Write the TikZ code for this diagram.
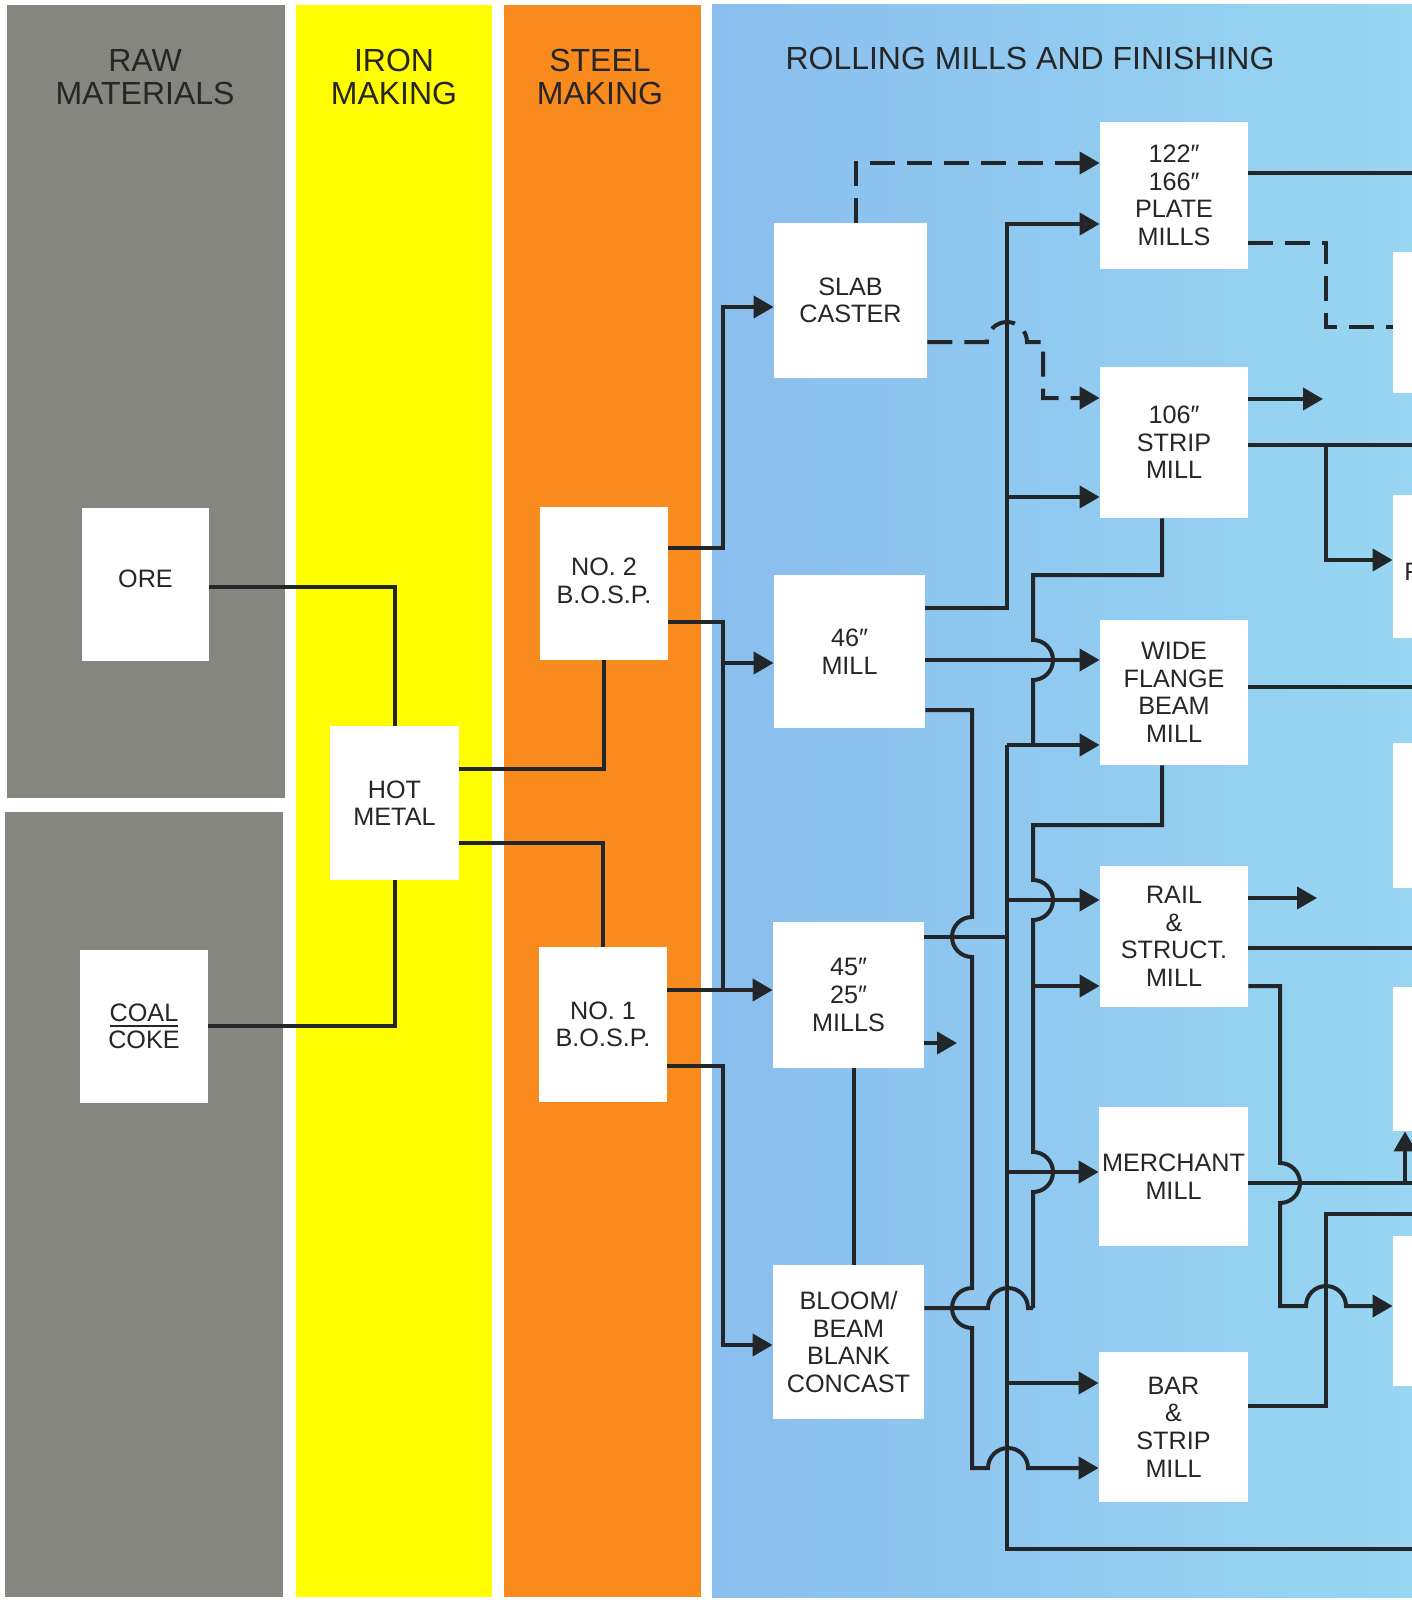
\documentclass[tikz,border=0pt]{standalone}
\usepackage{fontspec}
\setmainfont{Liberation Sans}
\usetikzlibrary{arrows.meta}
\definecolor{grayraw}{RGB}{134,134,128}
\definecolor{ironyel}{RGB}{255,253,0}
\definecolor{steelor}{RGB}{249,139,30}
\definecolor{blueL}{RGB}{138,190,238}
\definecolor{blueR}{RGB}{152,214,242}
\definecolor{txt}{RGB}{38,38,38}
\definecolor{lnc}{RGB}{35,38,40}
\newcommand\boxfnt{\fontsize{12.6pt}{13.8pt}\selectfont}
\newcommand\hdrfnt{\fontsize{16pt}{16.5pt}\selectfont}
\begin{document}
\begin{tikzpicture}[x=0.5pt,y=-0.5pt,
  bx/.style={fill=white, inner sep=0pt, align=center, font=\boxfnt, text=txt},
  hdr/.style={inner sep=0pt, align=center, font=\hdrfnt, text=txt},
  ln/.style={line width=2pt, draw=lnc},
  arr/.style={ln, -{Triangle[length=10pt,width=11pt]}},
  dsh/.style={dash pattern=on 12.5pt off 6pt}]
\useasboundingbox (0,0) rectangle (1412,1600);
\fill[white] (0,0) rectangle (1412,1600);
% columns
\fill[grayraw] (7,5) rectangle (285,798);
\fill[grayraw] (5,812) rectangle (283,1597);
\fill[ironyel] (296,5) rectangle (492,1597);
\fill[steelor] (504,5) rectangle (701,1597);
\shade[left color=blueL, right color=blueR] (712,5) rectangle (1412,1597);
% headers
\node[hdr] (hraw) at (145,77) {RAW\\MATERIALS};
\node[hdr] (hiron) at (394,77) {IRON\\MAKING};
\node[hdr] (hsteel) at (600,77) {STEEL\\MAKING};
\node[hdr] (hroll) at (1030,58) {ROLLING MILLS AND FINISHING};
% boxes
\node[bx, minimum width=63.5pt, minimum height=76.5pt] (ore) at (145.5,584.5) {\raisebox{6pt}{ORE}};
\node[bx, minimum width=64pt, minimum height=76.5pt] (coal) at (144,1026.5)
  {{\setbox0\hbox{COAL}\rlap{\rule[-2.6pt]{\wd0}{0.8pt}}\box0}\\COKE};
\node[bx, minimum width=64.5pt, minimum height=77pt] (hot) at (394.5,803) {HOT\\METAL};
\node[bx, minimum width=64pt, minimum height=76.5pt] (bosp2) at (604,583.5) {NO. 2\\\raisebox{0pt}[\height][3pt]{B.O.S.P.}};
\node[bx, minimum width=64pt, minimum height=77.5pt] (bosp1) at (603,1024.5) {NO. 1\\B.O.S.P.};
\node[bx, minimum width=76.5pt, minimum height=77.5pt] (slab) at (850.5,300.5) {SLAB\\CASTER};
\node[bx, minimum width=75.5pt, minimum height=76.5pt] (m46) at (849.5,651.5) {46″\\MILL};
\node[bx, minimum width=75.5pt, minimum height=73pt] (m45) at (848.5,995) {45″\\25″\\MILLS};
\node[bx, minimum width=75.5pt, minimum height=77pt] (bloom) at (848.5,1342) {BLOOM/\\BEAM\\BLANK\\CONCAST};
\node[bx, minimum width=74pt, minimum height=73.5pt] (plate) at (1174,195.5) {122″\\166″\\PLATE\\MILLS};
\node[bx, minimum width=74pt, minimum height=75.5pt] (strip) at (1174,442.5) {106″\\STRIP\\MILL};
\node[bx, minimum width=74pt, minimum height=72.5pt] (wfb) at (1174,692.5) {WIDE\\FLANGE\\BEAM\\MILL};
\node[bx, minimum width=74pt, minimum height=70.5pt] (rail) at (1174,936.5) {RAIL\\\&\\STRUCT.\\MILL};
\node[bx, minimum width=74.5pt, minimum height=69.5pt] (merch) at (1173.5,1176.5) {MERCHANT\\MILL};
\node[bx, minimum width=74.5pt, minimum height=75pt] (bar) at (1173.5,1427) {BAR\\\&\\STRIP\\MILL};
% right-edge boxes (cut by the page edge)
\node[bx, minimum width=23.5pt, minimum height=70.5pt] (r1) at (1416.5,322.5) {};
\node[bx, minimum width=23.5pt, minimum height=71.5pt] (r2) at (1416.5,566.5) {};
\node[bx, minimum width=23.5pt, minimum height=72.5pt] (r3) at (1416.5,815.5) {};
\node[bx, minimum width=23.5pt, minimum height=72pt] (r4) at (1416.5,1059) {};
\node[bx, minimum width=23.5pt, minimum height=75pt] (r5) at (1416.5,1311) {};
\node[font=\boxfnt, text=txt, anchor=west, inner sep=0pt] (rlbl) at (1404,572) {F};
% free ends
\coordinate (e173) at (1412,173);
\coordinate (e445) at (1412,445);
\coordinate (e687) at (1412,687);
\coordinate (e948) at (1412,948);
\coordinate (e1183) at (1412,1183);
\coordinate (e1214) at (1412,1214);
\coordinate (e1549) at (1412,1549);
\coordinate (stripout) at (1323,399);
\coordinate (railout) at (1317,898);
\coordinate (m45out) at (957,1043);
% raw -> iron -> steel
\draw[ln] (ore.east |- 0,587) -| (hot.north);
\draw[ln] (coal.east |- 0,1026) -| (hot.south);
\draw[ln] (hot.east |- 0,769) -| (bosp2.south);
\draw[ln] (hot.east |- 0,843) -| (bosp1.north);
% steel -> casters/mills
\draw[arr] (bosp2.east |- 0,548) -- (723,548) |- (slab.west |- 0,307);
\draw[ln] (bosp2.east |- 0,622) -- (723,622) -- (723,990);
\draw[arr] (723,663) -- (m46.west |- 0,663);
\draw[arr] (bosp1.east |- 0,990) -- (m45.west |- 0,990);
\draw[arr] (bosp1.east |- 0,1066) -- (723,1066) |- (bloom.west |- 0,1345);
\draw[ln] (m45.south -| 854,0) -- (bloom.north -| 854,0);
% slab caster dashed
\draw[arr,dsh] (slab.north -| 856,0) |- (plate.west |- 0,163);
\draw[arr,dsh] (slab.east |- 0,342) -- (987,342) arc[start angle=180,end angle=360,radius=20]
  -- (1043,342) |- (strip.west |- 0,398);
% 46" mill
\draw[arr] (m46.east |- 0,608) -| (1007,224) -- (plate.west |- 0,224);
\draw[arr] (1007,497) -- (strip.west |- 0,497);
\draw[arr] (m46.east |- 0,660) -- (wfb.west |- 0,660);
\draw[ln] (strip.south -| 1162,0) |- (1033,575) -- (1033,640)
  arc[start angle=-90,end angle=90,radius=20] -- (1033,745);
\draw[arr] (1007,745) -- (wfb.west |- 0,745);
\draw[ln] (1007,745) -- (1007,1549) -- (e1549);
\draw[arr] (m46.east |- 0,710) -- (972,710) -- (972,917)
  arc[start angle=-90,end angle=-270,radius=20] -- (972,1288)
  arc[start angle=-90,end angle=-270,radius=20] -- (972,1468) -- (988,1468)
  arc[start angle=180,end angle=360,radius=20] -- (bar.west |- 0,1468);
% 45"/25" mills
\draw[ln] (m45.east |- 0,937) -- (1007,937);
\draw[arr] (m45.east |- 0,1043) -- (m45out);
\draw[arr] (1007,900) -- (rail.west |- 0,900);
\draw[arr] (1007,1172) -- (merch.west |- 0,1172);
\draw[arr] (1007,1383) -- (bar.west |- 0,1383);
% wide flange bottom and bloom
\draw[ln] (wfb.south -| 1162,0) |- (1033,825) -- (1033,880)
  arc[start angle=-90,end angle=90,radius=20] -- (1033,1152)
  arc[start angle=-90,end angle=90,radius=20] -- (1033,1308);
\draw[arr] (1033,986) -- (rail.west |- 0,986);
\draw[ln] (bloom.east |- 0,1308) -- (988,1308)
  arc[start angle=180,end angle=360,radius=20] -- (1033,1308);
% outputs on the right
\draw[ln] (plate.east |- 0,173) -- (e173);
\draw[ln,dsh] (plate.east |- 0,243) -| (1326,327) -- (r1.west |- 0,327);
\draw[arr] (strip.east |- 0,399) -- (stripout);
\draw[ln] (strip.east |- 0,445) -- (e445);
\draw[arr] (1326,445) |- (r2.west |- 0,560);
\draw[ln] (wfb.east |- 0,687) -- (e687);
\draw[arr] (rail.east |- 0,898) -- (railout);
\draw[ln] (rail.east |- 0,948) -- (e948);
\draw[arr] (rail.east |- 0,986) -- (1280,986) -- (1280,1163)
  arc[start angle=-90,end angle=90,radius=20] -- (1280,1306) -- (1306,1306)
  arc[start angle=180,end angle=360,radius=20] -- (r5.west |- 0,1306);
\draw[ln] (merch.east |- 0,1183) -- (e1183);
\draw[arr] (1405,1183) -- (r4.south -| 1405,0);
\draw[ln] (bar.east |- 0,1406) -| (1326,1214) -- (e1214);
\end{tikzpicture}
\end{document}
